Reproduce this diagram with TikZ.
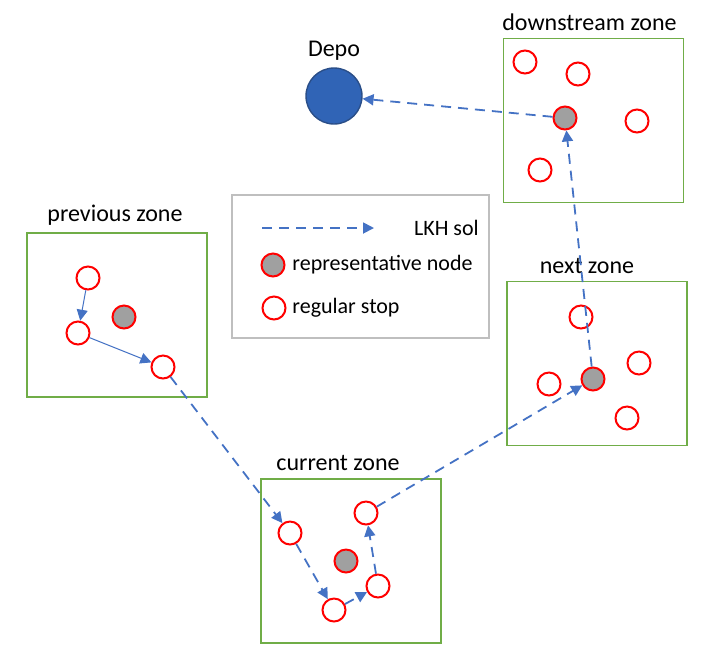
\documentclass[tikz,border=0pt]{standalone}
\usepackage{fontspec}
\setmainfont{Carlito}
\usetikzlibrary{arrows.meta}
\definecolor{lkhblue}{HTML}{4472C4}
\definecolor{depofill}{HTML}{3064B6}
\definecolor{depoline}{HTML}{2A4E88}
\definecolor{zonegreen}{HTML}{70AD47}
\definecolor{repgray}{HTML}{A0A0A0}
\definecolor{legendgray}{HTML}{BFBFBF}
\tikzset{stop/.style={circle,draw=red,line width=1pt,fill=white,minimum size=11.5pt,inner sep=0pt},
         rep/.style={stop,fill=repgray},
         zone/.style={draw=zonegreen,line width=0.9pt,minimum width=90pt,minimum height=82pt,inner sep=0pt},
         zonelabel/.style={font=\fontsize{12}{14}\selectfont},
         sol/.style={lkhblue,line width=0.9pt,dash pattern=on 5pt off 3.5pt,-{Triangle[length=5.5pt,width=5.5pt]}},
         inner/.style={lkhblue,line width=0.5pt,-{Triangle[length=5.5pt,width=5.5pt]}},
        }

\begin{document}
\begin{tikzpicture}[x=0.5pt,y=-0.5pt]
        \useasboundingbox (0,0) rectangle (704,655);
        % zones
        \node[zone,label={[zonelabel,xshift=-1pt]above:previous zone}](zprev)at(117,315){};
        \node[zone,label={[zonelabel,xshift=-6.5pt]above:current zone}](zcur)at(351,561){};
        \node[zone,label={[zonelabel,xshift=-5pt]above:next zone}](znext)at(597,363.5){};
        \node[zone,label={[zonelabel,xshift=-2pt]above:downstream zone}](zdown)at(593.5,120.5){};
        % depot
        \node[circle,draw=depoline,fill=depofill,line width=0.7pt,minimum size=28pt,
              label={[zonelabel]above:Depo}](depo)at(334,96){};
        % legend
        \node[draw=legendgray,line width=0.6pt,minimum width=128.5pt,minimum height=71.5pt](legend)at(360.5,266.5){};
        \coordinate(lgA)at(262,228);
        \coordinate(lgB)at(374,228);
        \draw[sol](lgA)--(lgB);
        \node[anchor=west,font=\fontsize{11}{13}\selectfont](lgsol)at(407,228){LKH sol};
        \node[rep](lgrep)at(273,265){};
        \node[anchor=west,font=\fontsize{11}{13}\selectfont,inner sep=0pt](lgreptxt)at(292,265){representative node};
        \node[stop](lgstop)at(274,308){};
        \node[anchor=west,font=\fontsize{11}{13}\selectfont,inner sep=0pt](lgstoptxt)at(292,308){regular stop};
        % previous zone
        \node[stop](p1)at(88,278){};
        \node[stop](p2)at(78,333){};
        \node[rep](prep)at(124,317){};
        \node[stop](p3)at(163,367){};
        % current zone
        \node[stop](c1)at(290,533){};
        \node[stop](c2)at(334,610){};
        \node[stop](c3)at(378,586){};
        \node[stop](c4)at(366,513){};
        \node[rep](crep)at(346,561){};
        % next zone
        \node[stop](n1)at(581,317){};
        \node[rep](nrep)at(593,379){};
        \node[stop](n2)at(639,363){};
        \node[stop](n3)at(549,384){};
        \node[stop](n4)at(627,418){};
        % downstream zone
        \node[stop](d1)at(525,62){};
        \node[stop](d2)at(578,74){};
        \node[rep](drep)at(565,118){};
        \node[stop](d3)at(637,121){};
        \node[stop](d4)at(540,170){};
        % route
        \draw[inner](p1)--(p2);
        \draw[inner](p2)--(p3);
        \draw[sol](p3)--(c1);
        \draw[sol](c1)--(c2);
        \draw[sol](c2)--(c3);
        \draw[sol](c3)--(c4);
        \draw[sol](c4)--(nrep);
        \draw[sol](nrep)--(drep);
        \draw[sol](drep)--(depo);
\end{tikzpicture}
\end{document}
